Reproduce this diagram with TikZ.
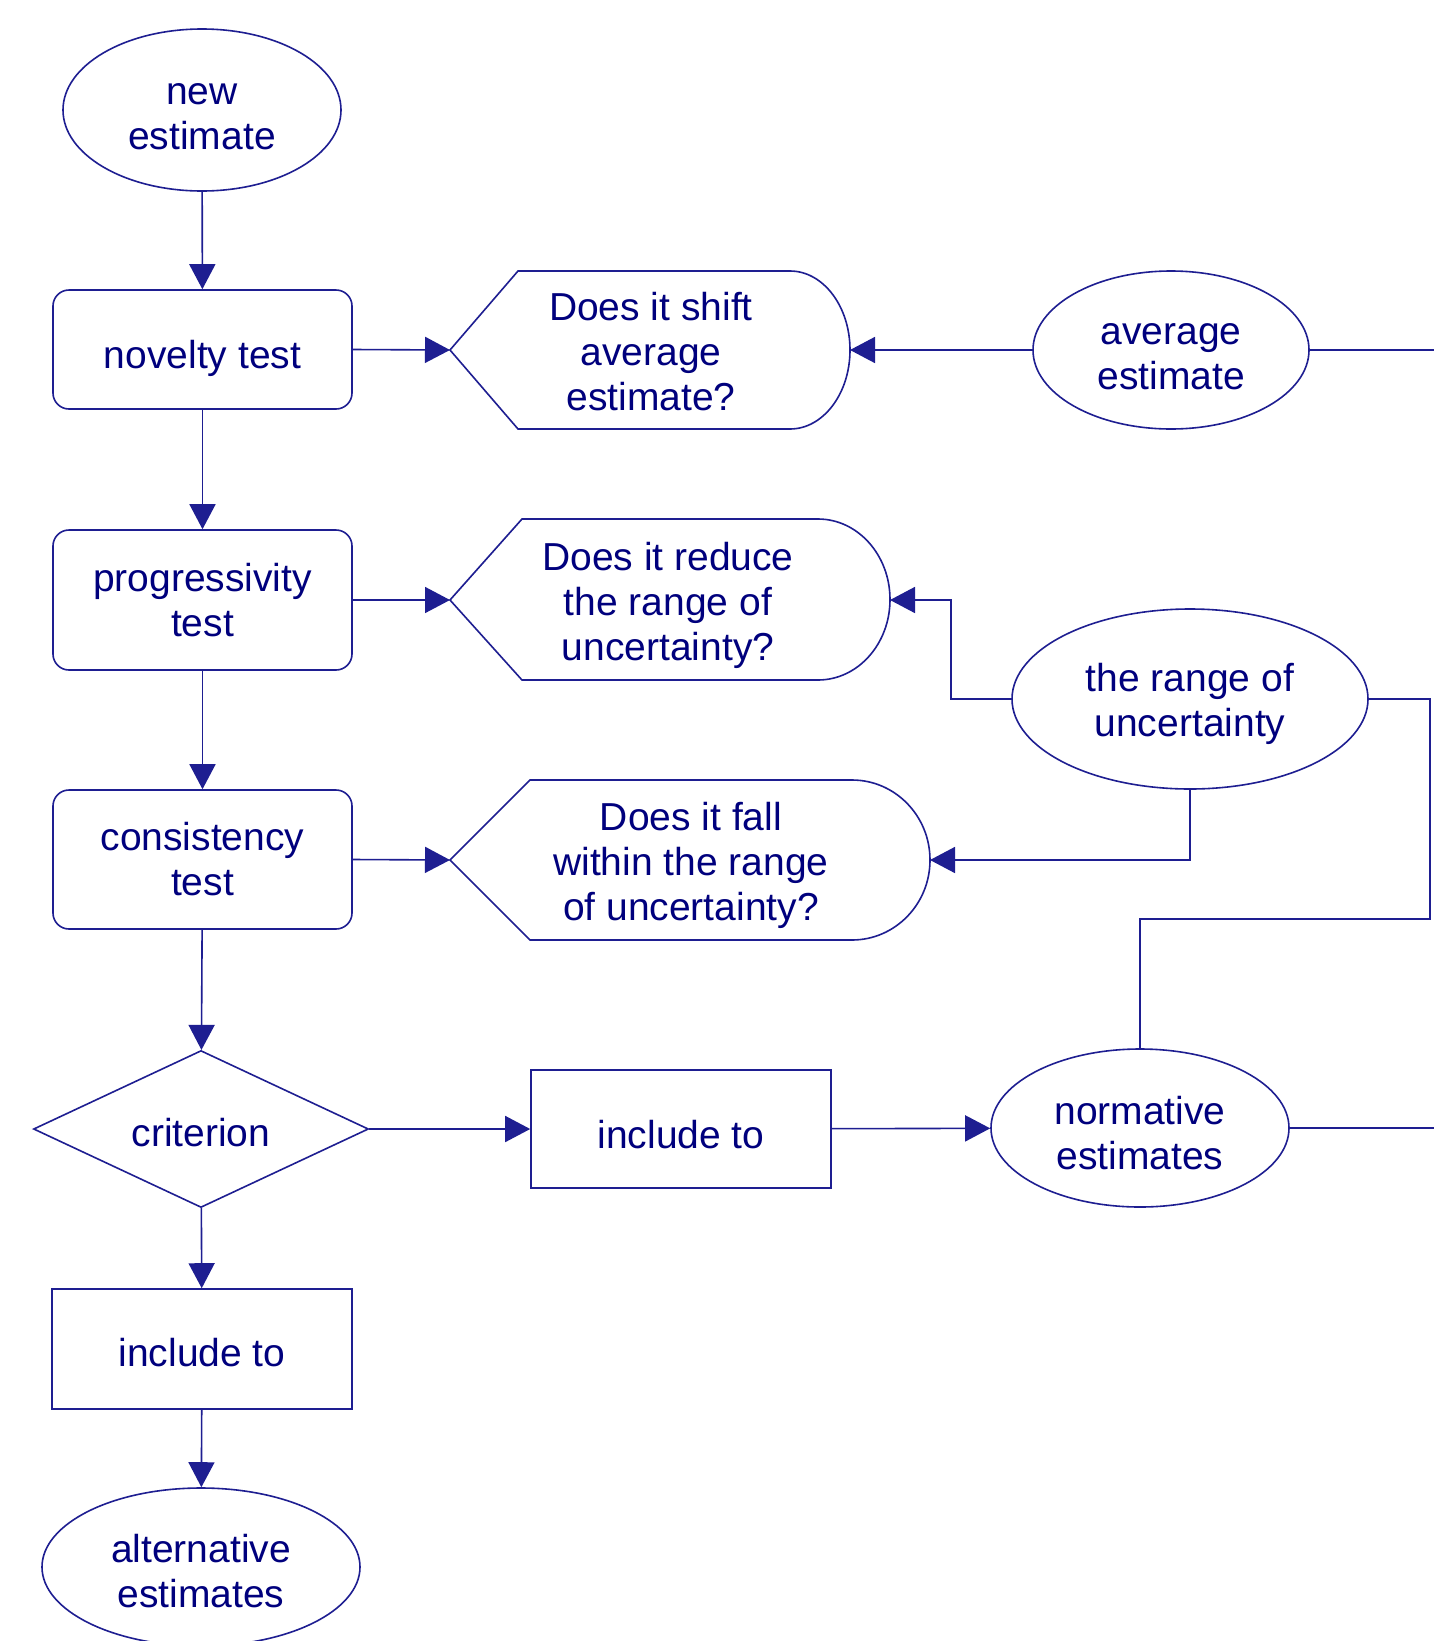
\documentclass[tikz,border=0pt]{standalone}
\usepackage{fontspec}
\setmainfont{Liberation Sans}
\usetikzlibrary{shapes.geometric,arrows.meta}
\definecolor{ln}{RGB}{30,30,145}
\definecolor{tx}{RGB}{0,0,125}
\begin{document}
\begin{tikzpicture}[x=1pt,y=-1pt,
  every node/.style={text=tx, font=\fontsize{39}{45}\selectfont, align=center},
  base/.style={draw=ln, line width=1.6pt},
  ell/.style={base, ellipse, inner sep=0pt},
  rbox/.style={base, rectangle, rounded corners=16pt, inner sep=0pt, minimum width=299pt},
  sbox/.style={base, rectangle, inner sep=0pt},
  conn/.style={draw=ln, line width=1.6pt},
  arr/.style={conn, -{Triangle[length=25pt,width=26pt]}},
]
\useasboundingbox (0,0) rectangle (1434,1641);
\clip (0,0) rectangle (1434,1641);
\fill[white] (0,0) rectangle (1434,1641);

% left column
\node[ell, minimum width=278pt, minimum height=162pt,
  label={[name=newt,yshift=-7pt]center:new\\estimate}] (new) at (202,110) {};
\node[rbox, minimum height=119pt,
  label={[name=novt,yshift=-9pt]center:novelty test}] (nov) at (202.5,349.5) {};
\node[rbox, minimum height=140pt,
  label={[name=progt,yshift=0pt]center:progressivity\\test}] (prog) at (202.5,600) {};
\node[rbox, minimum height=139pt,
  label={[name=const,yshift=0pt]center:consistency\\test}] (cons) at (202.5,859.5) {};
\node[base, diamond, inner sep=0pt, minimum width=335pt, minimum height=157pt,
  label={[name=critt,yshift=-4pt]center:criterion}] (crit) at (201,1129) {};
\node[sbox, minimum width=300pt, minimum height=120pt,
  label={[name=inc2t,yshift=-4pt]center:include to}] (inc2) at (202,1349) {};
\node[ell, minimum width=318pt, minimum height=158pt,
  label={[name=altt,yshift=-4pt]center:alternative\\estimates}] (alt) at (201,1567) {};

% middle / right
\node[sbox, minimum width=300pt, minimum height=118pt,
  label={[name=inc1t,yshift=-6pt]center:include to}] (inc1) at (681,1129) {};
\node[ell, minimum width=276pt, minimum height=158pt,
  label={[name=avgt,yshift=-7pt]center:average\\estimate}] (avg) at (1171,350) {};
\node[ell, minimum width=356pt, minimum height=180pt,
  label={[name=rngt,yshift=-5pt]center:the range of\\uncertainty}] (rng) at (1190,699) {};
\node[ell, minimum width=298pt, minimum height=158pt,
  label={[name=normt,yshift=-5pt]center:normative\\estimates}] (norm) at (1140,1128) {};

% question shapes
\draw[base] (450,350) -- (518,271) -- (790,271)
  arc[start angle=-90,end angle=90,x radius=60,y radius=79] -- (518,429) -- cycle;
\node (h1) at (651,352) {Does it shift\\average\\estimate?};
\coordinate (h1w) at (450,350);
\coordinate (h1e) at (850,350);

\draw[base] (450,600) -- (522,519) -- (818,519)
  arc[start angle=-90,end angle=90,x radius=72,y radius=80.5] -- (522,680) -- cycle;
\node (h2) at (668,605) {Does it reduce\\the range of\\uncertainty?};
\coordinate (h2w) at (450,600);
\coordinate (h2e) at (890,600);

\draw[base] (450,860) -- (530,780) -- (852,780)
  arc[start angle=-90,end angle=90,x radius=78,y radius=80] -- (530,940) -- cycle;
\node (h3) at (691,865) {Does it fall\\within the range\\of uncertainty?};
\coordinate (h3w) at (450,860);
\coordinate (h3e) at (930,860);

% helper coordinates
\coordinate (avgout) at (1440,350);
\coordinate (k1) at (951,699);
\coordinate (r1) at (1430,699);
\coordinate (r2) at (1430,919);
\coordinate (normout) at (1440,1128);

% connectors
\draw[arr] (new) -- (nov);
\draw[arr] (nov.east) -- (h1w);
\draw[arr] (avg.west) -- (h1e);
\draw[conn] (avg.east) -- (avgout);
\draw[arr] (nov) -- (prog);
\draw[arr] (prog.east) -- (h2w);
\draw[arr] (rng.west) -- (k1) |- (h2e);
\draw[arr] (rng.south) |- (h3e);
\draw[conn] (rng.east) -- (r1) -- (r2) -| (norm.north);
\draw[arr] (prog) -- (cons);
\draw[arr] (cons.east) -- (h3w);
\draw[arr] (cons) -- (crit);
\draw[arr] (crit.east) -- (inc1);
\draw[arr] (inc1) -- (norm);
\draw[conn] (norm.east) -- (normout);
\draw[arr] (crit) -- (inc2);
\draw[arr] (inc2) -- (alt);
\end{tikzpicture}
\end{document}
